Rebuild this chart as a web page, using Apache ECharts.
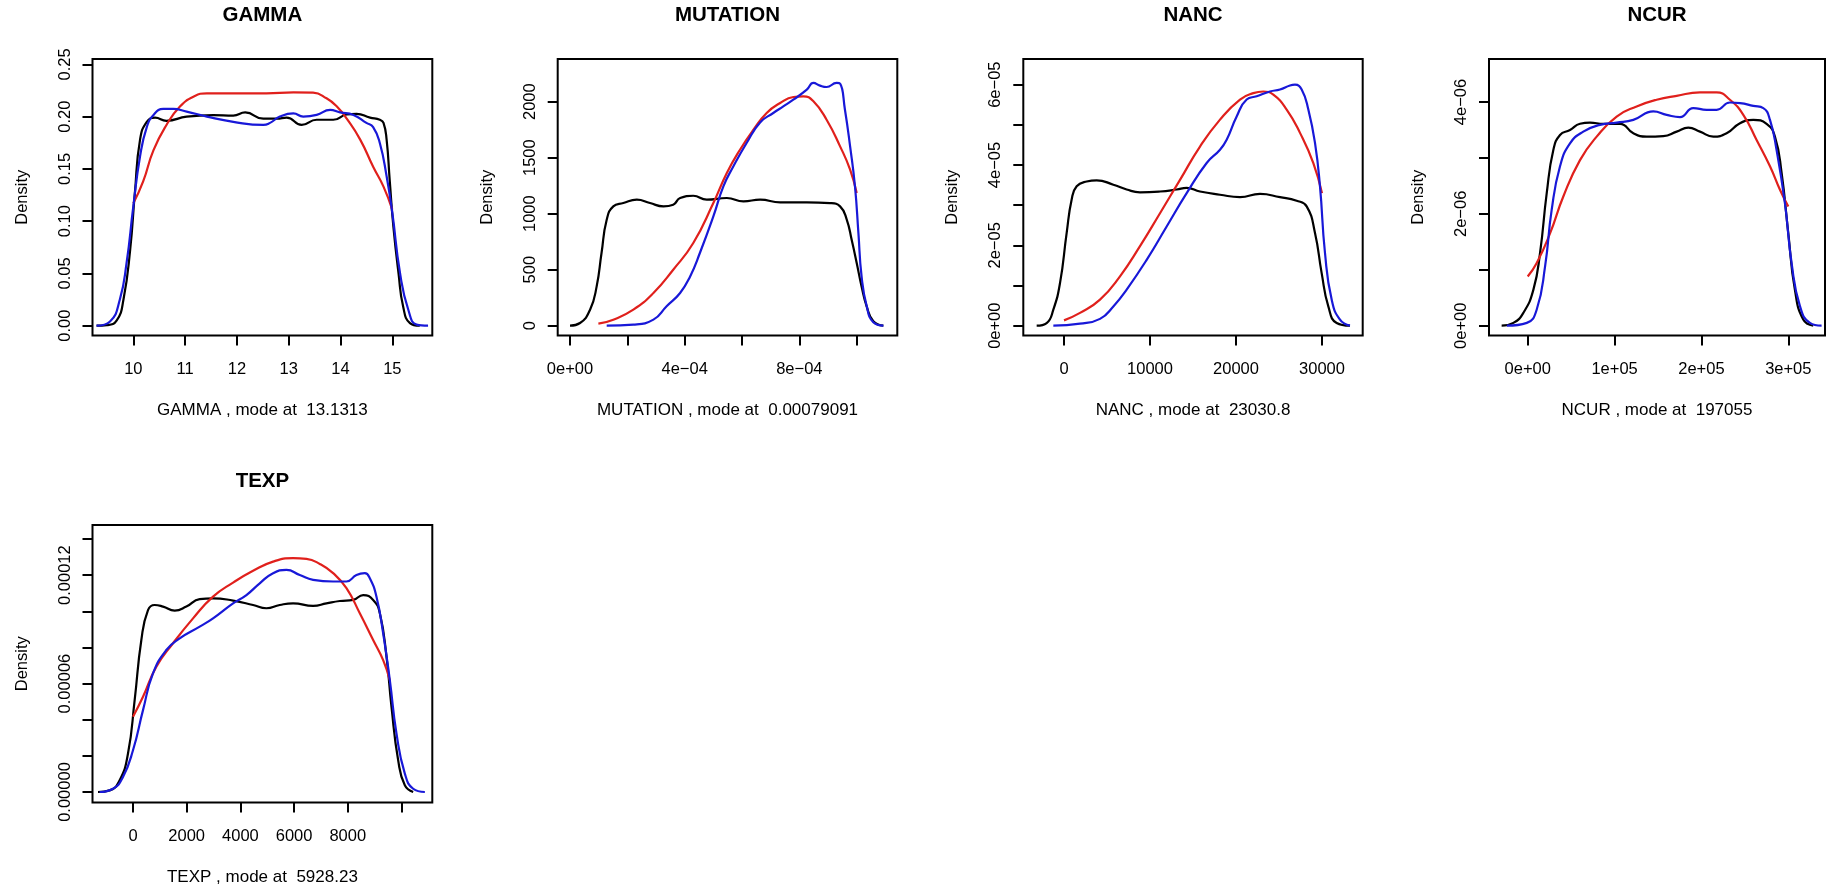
<!DOCTYPE html>
<html>
<head>
<meta charset="utf-8">
<script src="https://cdn.jsdelivr.net/npm/echarts@6/dist/echarts.min.js"></script>
<style>
  html, body { margin: 0; padding: 0; background: #fff; }
  #chart { width: 1827px; height: 887px; }
</style>
</head>
<body>
<div id="chart"></div>
<script>
// ---------------- DATA ----------------
const panelTitles = ['GAMMA', 'MUTATION', 'NANC', 'NCUR', 'TEXP'];
const xAxisNames = ['GAMMA , mode at  13.1313', 'MUTATION , mode at  0.00079091', 'NANC , mode at  23030.8', 'NCUR , mode at  197055', 'TEXP , mode at  5928.23'];

// GAMMA
const gammaBlack = [[9.29,0],[9.49,0.0005],[9.68,0.005],[9.81,0.025],[9.94,0.073],[10.03,0.127],[10.13,0.178],[10.26,0.195],[10.42,0.199],[10.64,0.196],[11.03,0.2],[11.54,0.2015],[11.93,0.201],[12.16,0.204],[12.51,0.198],[12.77,0.198],[12.96,0.199],[13.25,0.192],[13.54,0.197],[13.86,0.197],[14.12,0.202],[14.31,0.2026],[14.57,0.199],[14.76,0.197],[14.83,0.194],[14.89,0.178],[14.95,0.139],[15.02,0.095],[15.12,0.05],[15.21,0.018],[15.34,0.0025],[15.53,0]];
const gammaRed = [[10.0,0.117],[10.19,0.138],[10.39,0.168],[10.64,0.192],[10.9,0.2096],[11.16,0.219],[11.42,0.2223],[11.93,0.2223],[12.57,0.2223],[13.09,0.2232],[13.47,0.2229],[13.73,0.2175],[13.93,0.2096],[14.12,0.198],[14.38,0.178],[14.63,0.152],[14.83,0.133],[15.0,0.111]];
const gammaBlue = [[9.29,0],[9.55,0.004],[9.74,0.025],[9.87,0.06],[10.0,0.114],[10.13,0.162],[10.26,0.19],[10.39,0.2016],[10.58,0.2073],[10.77,0.2073],[11.03,0.2048],[11.42,0.2],[11.93,0.195],[12.51,0.192],[12.64,0.194],[12.83,0.2],[13.09,0.203],[13.28,0.2],[13.54,0.2016],[13.8,0.2064],[13.99,0.204],[14.25,0.2016],[14.5,0.194],[14.63,0.19],[14.76,0.1745],[14.89,0.143],[15.0,0.108],[15.15,0.05],[15.31,0.015],[15.47,0.001],[15.69,0]];

// MUTATION
const mutationBlack = [[0,0],[0.35e-4,24],[0.70e-4,143],[0.93e-4,351],[1.10e-4,649],[1.28e-4,946],[1.51e-4,1065],[1.86e-4,1095],[2.33e-4,1125],[2.79e-4,1095],[3.26e-4,1065],[3.6e-4,1080],[3.84e-4,1140],[4.3e-4,1160],[4.77e-4,1125],[5.47e-4,1140],[6.05e-4,1110],[6.63e-4,1125],[7.33e-4,1101],[8.26e-4,1101],[9.07e-4,1095],[9.42e-4,1065],[9.65e-4,950],[9.83e-4,760],[10.0e-4,560],[10.17e-4,350],[10.35e-4,170],[10.58e-4,40],[10.93e-4,0]];
const mutationRed = [[0.99e-4,18],[1.51e-4,54],[2.21e-4,143],[2.91e-4,292],[3.6e-4,500],[4.3e-4,738],[5.0e-4,1095],[5.47e-4,1363],[5.93e-4,1571],[6.4e-4,1750],[6.86e-4,1899],[7.33e-4,1988],[7.79e-4,2042],[8.14e-4,2048],[8.49e-4,2003],[8.95e-4,1839],[9.42e-4,1601],[9.77e-4,1393],[10.0e-4,1184]];
const mutationBlue = [[1.28e-4,0],[2.21e-4,9],[2.91e-4,54],[3.37e-4,173],[3.84e-4,292],[4.19e-4,440],[4.53e-4,649],[5.0e-4,976],[5.35e-4,1244],[5.7e-4,1423],[6.16e-4,1631],[6.63e-4,1815],[7.09e-4,1899],[7.44e-4,1958],[7.79e-4,2018],[8.26e-4,2107],[8.49e-4,2167],[8.72e-4,2143],[8.95e-4,2131],[9.3e-4,2167],[9.42e-4,2161],[9.59e-4,1928],[9.77e-4,1601],[9.94e-4,1244],[10.06e-4,827],[10.17e-4,440],[10.35e-4,173],[10.58e-4,30],[10.93e-4,0]];

// NANC
const nancBlack = [[-3178,0],[-2016,0.066e-5],[-1240,0.40e-5],[-465,1.06e-5],[310,2.31e-5],[891,3.14e-5],[1473,3.47e-5],[2636,3.59e-5],[3798,3.62e-5],[5736,3.51e-5],[7287,3.39e-5],[8837,3.32e-5],[11163,3.34e-5],[13101,3.39e-5],[14264,3.43e-5],[15814,3.34e-5],[18140,3.26e-5],[20465,3.20e-5],[22791,3.28e-5],[25116,3.20e-5],[27054,3.11e-5],[28217,2.97e-5],[29186,2.31e-5],[29961,1.31e-5],[30736,0.48e-5],[31705,0.066e-5],[33256,0]];
const nancRed = [[0,0.133e-5],[1860,0.32e-5],[4186,0.65e-5],[6512,1.23e-5],[8837,1.98e-5],[11163,2.80e-5],[13488,3.63e-5],[15814,4.46e-5],[18140,5.13e-5],[20465,5.63e-5],[22016,5.79e-5],[23178,5.83e-5],[24341,5.75e-5],[25891,5.38e-5],[27442,4.80e-5],[28992,4.05e-5],[30000,3.30e-5]];
const nancBlue = [[-1240,0],[1860,0.05e-5],[4186,0.17e-5],[5736,0.48e-5],[7287,0.90e-5],[9612,1.64e-5],[11938,2.47e-5],[14264,3.30e-5],[16589,4.05e-5],[18140,4.38e-5],[18915,4.63e-5],[20078,5.21e-5],[21240,5.63e-5],[22403,5.71e-5],[23953,5.83e-5],[25116,5.88e-5],[26279,5.98e-5],[26860,6.0e-5],[27636,5.88e-5],[28411,5.38e-5],[29186,4.55e-5],[29767,3.47e-5],[30349,1.81e-5],[31124,0.65e-5],[32093,0.15e-5],[33256,0]];

// NCUR
const ncurBlack = [[-0.30e5,0],[-0.165e5,0.05e-6],[-0.05e5,0.23e-6],[0.065e5,0.64e-6],[0.142e5,1.30e-6],[0.219e5,2.37e-6],[0.295e5,3.14e-6],[0.372e5,3.41e-6],[0.487e5,3.5e-6],[0.602e5,3.61e-6],[0.717e5,3.63e-6],[0.871e5,3.61e-6],[1.063e5,3.61e-6],[1.216e5,3.44e-6],[1.369e5,3.38e-6],[1.561e5,3.39e-6],[1.715e5,3.47e-6],[1.849e5,3.54e-6],[1.983e5,3.47e-6],[2.137e5,3.38e-6],[2.29e5,3.44e-6],[2.444e5,3.62e-6],[2.597e5,3.68e-6],[2.75e5,3.61e-6],[2.846e5,3.38e-6],[2.923e5,2.73e-6],[3.0e5,1.65e-6],[3.076e5,0.64e-6],[3.172e5,0.11e-6],[3.287e5,0]];
const ncurRed = [[0,0.88e-6],[0.104e5,1.12e-6],[0.257e5,1.65e-6],[0.41e5,2.31e-6],[0.602e5,2.96e-6],[0.794e5,3.38e-6],[1.024e5,3.74e-6],[1.254e5,3.92e-6],[1.484e5,4.04e-6],[1.715e5,4.11e-6],[1.983e5,4.17e-6],[2.175e5,4.17e-6],[2.328e5,4.04e-6],[2.482e5,3.77e-6],[2.635e5,3.32e-6],[2.789e5,2.85e-6],[2.904e5,2.43e-6],[3.0e5,2.13e-6]];
const ncurBlue = [[-0.24e5,0],[-0.01e5,0.05e-6],[0.104e5,0.29e-6],[0.2e5,1.06e-6],[0.276e5,2.07e-6],[0.372e5,2.85e-6],[0.487e5,3.26e-6],[0.64e5,3.47e-6],[0.832e5,3.59e-6],[1.024e5,3.63e-6],[1.216e5,3.68e-6],[1.446e5,3.83e-6],[1.6e5,3.77e-6],[1.753e5,3.73e-6],[1.906e5,3.89e-6],[2.06e5,3.86e-6],[2.175e5,3.86e-6],[2.328e5,3.99e-6],[2.444e5,3.98e-6],[2.597e5,3.93e-6],[2.712e5,3.89e-6],[2.789e5,3.68e-6],[2.865e5,3.14e-6],[2.961e5,2.19e-6],[3.038e5,1.12e-6],[3.134e5,0.35e-6],[3.249e5,0.05e-6],[3.383e5,0]];

// TEXP
const texpBlack = [[-1304,0],[-870,0.09e-5],[-497,0.65e-5],[-186,2.13e-5],[62,5.08e-5],[311,8.41e-5],[559,10.07e-5],[807,10.35e-5],[1118,10.26e-5],[1553,10.04e-5],[1988,10.26e-5],[2484,10.67e-5],[2981,10.72e-5],[3727,10.59e-5],[4472,10.35e-5],[4969,10.17e-5],[5466,10.35e-5],[5963,10.44e-5],[6708,10.3e-5],[7205,10.44e-5],[7702,10.57e-5],[8199,10.63e-5],[8571,10.9e-5],[8944,10.63e-5],[9193,9.89e-5],[9441,7.49e-5],[9627,4.71e-5],[9876,1.76e-5],[10124,0.37e-5],[10435,0]];
const texpRed = [[0,4.16e-5],[373,5.27e-5],[870,6.93e-5],[1491,8.23e-5],[2236,9.61e-5],[2981,10.81e-5],[3727,11.59e-5],[4472,12.24e-5],[5217,12.75e-5],[5963,12.94e-5],[6460,12.9e-5],[6957,12.62e-5],[7453,12.11e-5],[7950,11.28e-5],[8447,9.89e-5],[8944,8.41e-5],[9317,7.3e-5],[9565,6.19e-5]];
const texpBlue = [[-1242,0],[-745,0.18e-5],[-373,0.83e-5],[0,2.31e-5],[373,4.53e-5],[745,6.56e-5],[1242,7.86e-5],[1739,8.5e-5],[2484,9.15e-5],[2981,9.61e-5],[3727,10.44e-5],[4224,10.9e-5],[4720,11.55e-5],[5217,12.11e-5],[5714,12.29e-5],[6211,12.01e-5],[6708,11.74e-5],[7453,11.65e-5],[7950,11.65e-5],[8323,12.01e-5],[8634,12.11e-5],[8820,11.83e-5],[9068,10.81e-5],[9317,8.78e-5],[9565,6.19e-5],[9814,3.23e-5],[10124,1.02e-5],[10435,0.18e-5],[10870,0]];

// Tick positions and labels
const gammaXTicks = [10, 11, 12, 13, 14, 15];
const gammaXLabels = ['10', '11', '12', '13', '14', '15'];
const gammaYTicks = [0, 0.05, 0.10, 0.15, 0.20, 0.25];
const gammaYLabels = ['0.00', '0.05', '0.10', '0.15', '0.20', '0.25'];

const mutationXTicks = [0, 2e-4, 4e-4, 6e-4, 8e-4, 1e-3];
const mutationXLabelValues = [0, 4e-4, 8e-4];
const mutationXLabels = ['0e+00', '4e\u221204', '8e\u221204'];
const mutationYTicks = [0, 500, 1000, 1500, 2000];
const mutationYLabels = ['0', '500', '1000', '1500', '2000'];

const nancXTicks = [0, 10000, 20000, 30000];
const nancXLabels = ['0', '10000', '20000', '30000'];
const nancYTicks = [0, 1e-5, 2e-5, 3e-5, 4e-5, 5e-5, 6e-5];
const nancYLabelValues = [0, 2e-5, 4e-5, 6e-5];
const nancYLabels = ['0e+00', '2e\u221205', '4e\u221205', '6e\u221205'];

const ncurXTicks = [0, 1e5, 2e5, 3e5];
const ncurXLabels = ['0e+00', '1e+05', '2e+05', '3e+05'];
const ncurYTicks = [0, 1e-6, 2e-6, 3e-6, 4e-6];
const ncurYLabelValues = [0, 2e-6, 4e-6];
const ncurYLabels = ['0e+00', '2e\u221206', '4e\u221206'];

const texpXTicks = [0, 2000, 4000, 6000, 8000, 10000];
const texpXLabelValues = [0, 2000, 4000, 6000, 8000];
const texpXLabels = ['0', '2000', '4000', '6000', '8000'];
const texpYTicks = [0, 2e-5, 4e-5, 6e-5, 8e-5, 10e-5, 12e-5, 14e-5];
const texpYLabelValues = [0, 6e-5, 12e-5];
const texpYLabels = ['0.00000', '0.00006', '0.00012'];

// ---------------- LAYOUT / STYLE ----------------
const FONT = '"Liberation Sans", Arial, Helvetica, sans-serif';
const COLORS = { black: '#000000', red: '#e0201c', blue: '#1818d8' };

const layout = [
  { left: 92.5,  top: 59,  width: 339.8, height: 276.5, xmin: 9.212, xmax: 15.772, ymin: -0.0094, ymax: 0.2551 },
  { left: 557.7, top: 59,  width: 339.6, height: 276.5, xmin: -0.429e-4, xmax: 11.416e-4, ymin: -87.5, ymax: 2381 },
  { left: 1023.3, top: 59, width: 339.4, height: 276.5, xmin: -4733, xmax: 34733, ymin: -0.244e-5, ymax: 6.639e-5 },
  { left: 1489,  top: 59,  width: 336,   height: 276.5, xmin: -0.4455e5, xmax: 3.4224e5, ymin: -0.175e-6, ymax: 4.768e-6 },
  { left: 92.5,  top: 525, width: 339.8, height: 277.5, xmin: -1508, xmax: 11147, ymin: -0.581e-5, ymax: 14.776e-5 }
];

const axesDef = [
  { xt: gammaXTicks, xlv: gammaXTicks, xl: gammaXLabels, yt: gammaYTicks, ylv: gammaYTicks, yl: gammaYLabels },
  { xt: mutationXTicks, xlv: mutationXLabelValues, xl: mutationXLabels, yt: mutationYTicks, ylv: mutationYTicks, yl: mutationYLabels },
  { xt: nancXTicks, xlv: nancXTicks, xl: nancXLabels, yt: nancYTicks, ylv: nancYLabelValues, yl: nancYLabels },
  { xt: ncurXTicks, xlv: ncurXTicks, xl: ncurXLabels, yt: ncurYTicks, ylv: ncurYLabelValues, yl: ncurYLabels },
  { xt: texpXTicks, xlv: texpXLabelValues, xl: texpXLabels, yt: texpYTicks, ylv: texpYLabelValues, yl: texpYLabels }
];

const curves = [
  [gammaBlack, gammaRed, gammaBlue],
  [mutationBlack, mutationRed, mutationBlue],
  [nancBlack, nancRed, nancBlue],
  [ncurBlack, ncurRed, ncurBlue],
  [texpBlack, texpRed, texpBlue]
];

function labelFor(values, labels) {
  return function (val) {
    for (let i = 0; i < values.length; i++) {
      const v = values[i];
      if (Math.abs(v - val) <= Math.abs(v) * 1e-6 + 1e-30) return labels[i];
    }
    return '';
  };
}

const grid = [], xAxis = [], yAxis = [], title = [], series = [];
layout.forEach((L, i) => {
  const A = axesDef[i];
  grid.push({ left: L.left, top: L.top, width: L.width, height: L.height, show: true,
    borderColor: '#000', borderWidth: 2, backgroundColor: 'transparent', containLabel: false, outerBoundsMode: 'none' });
  xAxis.push({
    type: 'value', gridIndex: i, min: L.xmin, max: L.xmax, position: 'bottom',
    name: xAxisNames[i], nameLocation: 'middle', nameGap: 66,
    nameTextStyle: { fontSize: 17, color: '#000', fontFamily: FONT },
    axisLine: { show: false, onZero: false },
    axisTick: { show: true, inside: false, length: 10, lineStyle: { color: '#000', width: 2 }, customValues: A.xt },
    axisLabel: { show: true, customValues: A.xlv, formatter: labelFor(A.xlv, A.xl), margin: 25,
      fontSize: 16.5, color: '#000', fontFamily: FONT, showMinLabel: true, showMaxLabel: true },
    splitLine: { show: false }
  });
  yAxis.push({
    type: 'value', gridIndex: i, min: L.ymin, max: L.ymax, position: 'left',
    name: 'Density', nameLocation: 'middle', nameGap: 62, nameRotate: 90,
    nameTextStyle: { fontSize: 16.5, color: '#000', fontFamily: FONT },
    axisLine: { show: false, onZero: false },
    axisTick: { show: true, inside: false, length: 10, lineStyle: { color: '#000', width: 2 }, customValues: A.yt },
    axisLabel: { show: true, customValues: A.ylv, formatter: labelFor(A.ylv, A.yl), rotate: 90, margin: 19,
      fontSize: 16.5, color: '#000', fontFamily: FONT, showMinLabel: true, showMaxLabel: true },
    splitLine: { show: false }
  });
  title.push({ text: panelTitles[i], left: L.left + L.width / 2, top: L.top - 54, textAlign: 'center', padding: 0,
    textStyle: { fontSize: 20.5, fontWeight: 'bold', color: '#000', fontFamily: FONT } });
  const cols = [COLORS.black, COLORS.red, COLORS.blue];
  curves[i].forEach((d, k) => {
    series.push({ type: 'line', xAxisIndex: i, yAxisIndex: i, data: d, showSymbol: false, symbol: 'none',
      smooth: 0.5, silent: true, clip: true,
      lineStyle: { color: cols[k], width: 2.2 } });
  });
});

const chart = echarts.init(document.getElementById('chart'), null, { renderer: 'canvas' });
chart.setOption({
  animation: false,
  backgroundColor: '#ffffff',
  textStyle: { fontFamily: FONT },
  title, grid, xAxis, yAxis, series
});
</script>
</body>
</html>
